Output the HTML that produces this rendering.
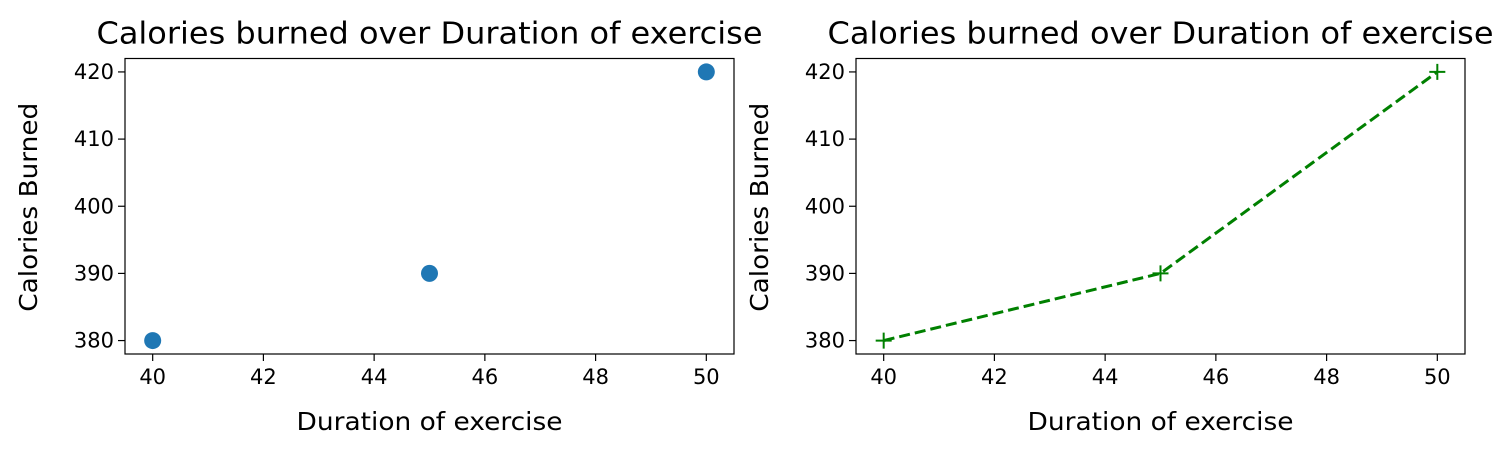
<!DOCTYPE html>
<html><head><meta charset="utf-8"><style>
body{margin:0;background:#fff}
svg{display:block;font-family:"DejaVu Sans","Liberation Sans",sans-serif}
</style></head><body>
<svg id="fig" width="1512" height="455"></svg>
<script>
const durations=[40,45,50];
const calories=[380,390,420];
const xTicks=[40,42,44,46,48,50];
const yTicks=[380,390,400,410,420];
const titleText="Calories burned over Duration of exercise";
const xLabel="Duration of exercise";
const yLabel="Calories Burned";

const NS="http://www.w3.org/2000/svg";
const svg=document.getElementById('fig');
function mk(t,a,p){const e=document.createElementNS(NS,t);for(const k in a)e.setAttribute(k,a[k]);(p||svg).appendChild(e);return e;}

function panel(x0,x1,y0,y1,kind,name){
  const g=mk('g',{});
  
  
  const xmin=39.5,xmax=50.5,ymin=378,ymax=422;
  const sx=v=>x0+(v-xmin)/(xmax-xmin)*(x1-x0);
  const sy=v=>y1-(v-ymin)/(ymax-ymin)*(y1-y0);
  xTicks.forEach(t=>{
    mk('line',{x1:sx(t),x2:sx(t),y1:y1,y2:y1+7,stroke:'#000','stroke-width':1.2},g);
    const tx=mk('text',{x:sx(t),y:y1+30,'text-anchor':'middle','font-size':21},g);tx.textContent=t;
    
    
  });
  yTicks.forEach(t=>{
    mk('line',{x1:x0-7,x2:x0,y1:sy(t),y2:sy(t),stroke:'#000','stroke-width':1.2},g);
    const tx=mk('text',{x:x0-11,y:sy(t)+7,'text-anchor':'end','font-size':21},g);tx.textContent=t;
    
    
  });
  if(kind==='scatter'){
    durations.forEach((d,i)=>{
      const c=mk('circle',{cx:sx(d),cy:sy(calories[i]),r:8.5,fill:'#1f77b4'},g);
      
      
    });
  }else{
    const pts=durations.map((d,i)=>sx(d)+','+sy(calories[i])).join(' ');
    const pl=mk('polyline',{points:pts,fill:'none',stroke:'#008000','stroke-width':3,'stroke-dasharray':'11,5'},g);
    
    
    durations.forEach((d,i)=>{
      const X=sx(d),Y=sy(calories[i]);
      const m=mk('path',{d:`M${X-8},${Y}H${X+8}M${X},${Y-8}V${Y+8}`,stroke:'#008000','stroke-width':2},g);
      
      
    });
  }
  const fr=mk('rect',{x:x0,y:y0,width:x1-x0,height:y1-y0,fill:'none',stroke:'#000','stroke-width':1.2},g);
  
  
  const ti=mk('text',{x:(x0+x1)/2,y:y0-15,'text-anchor':'middle','font-size':30,textLength:666,lengthAdjust:'spacingAndGlyphs'},g);ti.textContent=titleText;
  
  
  const xl=mk('text',{x:(x0+x1)/2,y:y1+76,'text-anchor':'middle','font-size':25,textLength:266,lengthAdjust:'spacingAndGlyphs'},g);xl.textContent=xLabel;
  
  
  const cy=(y0+y1)/2+1;
  const lx=x0-96;
  const yl=mk('text',{x:lx,y:cy,'text-anchor':'middle','font-size':25,textLength:209,lengthAdjust:'spacingAndGlyphs',transform:`rotate(-90 ${lx} ${cy})`,dy:8},g);yl.textContent=yLabel;
  
  
}
panel(125,734,58.5,354,'scatter','scatter-chart');
panel(856,1465,58.5,354,'line','line-chart');
</script>
</body></html>
